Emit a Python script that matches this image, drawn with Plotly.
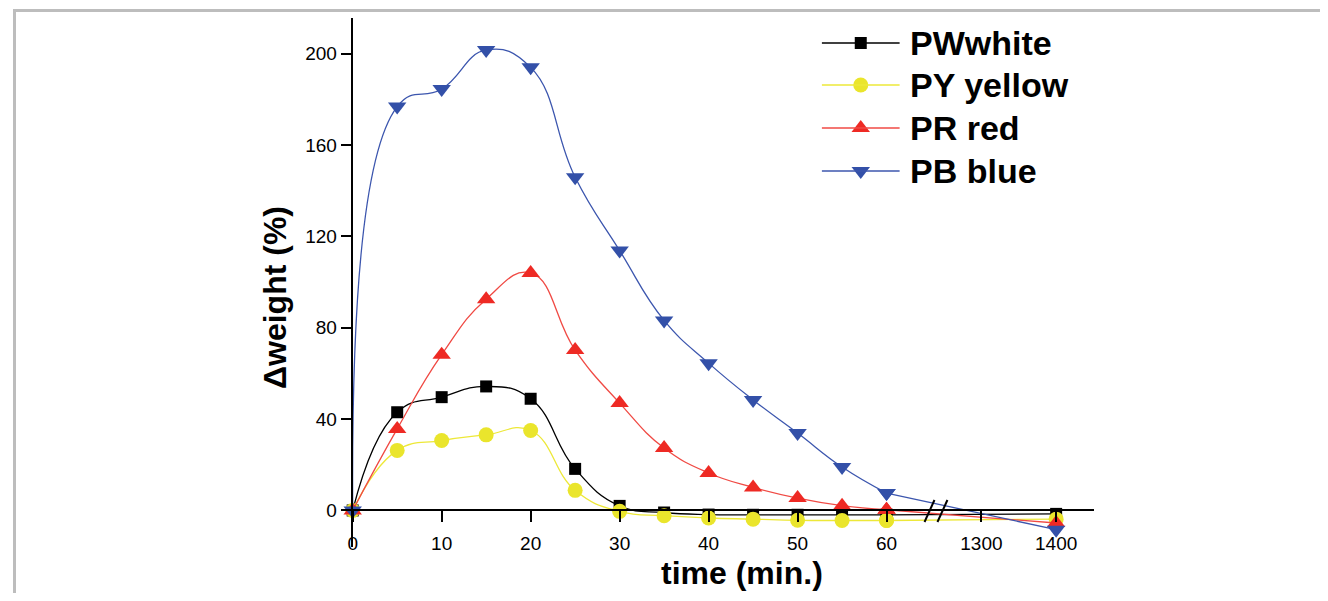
import plotly.graph_objects as go

# ---------------- data ----------------
time_min = [0, 5, 10, 15, 20, 25, 30, 35, 40, 45, 50, 55, 60, 1400]
pw_white = [0, 43.0, 49.6, 54.3, 48.9, 18.2, 2.0, -0.9, -1.8, -1.9, -1.9, -1.9, -1.9, -1.5]
py_yellow = [0, 26.3, 30.6, 33.1, 35.0, 8.8, -0.4, -2.3, -3.3, -3.8, -4.3, -4.4, -4.4, -3.8]
pr_red = [0, 35.7, 68.2, 92.5, 104.0, 70.2, 47.0, 27.3, 16.4, 10.1, 5.4, 2.1, 0.3, -5.5]
pb_blue = [0, 176.8, 184.5, 201.6, 194.0, 145.9, 113.8, 83.2, 64.5, 48.4, 33.9, 19.0, 7.6, -8.4]

series_names = ["PWwhite", "PY yellow", "PR red", "PB blue"]
x_tick_vals = [0, 10, 20, 30, 40, 50, 60, 1300, 1400]
y_tick_vals = [0, 40, 80, 120, 160, 200]

# ---------------- broken x axis mapping ----------------
LEFT_END = 65.0          # left segment covers 0..~65 min
RIGHT_ORIGIN = 1300.0    # right segment starts labelling at 1300
RIGHT_POS = 70.66        # axis position of 1300
RIGHT_SCALE = 0.084      # axis units per minute on the right segment


def xmap(t):
    return t if t <= LEFT_END else RIGHT_POS + (t - RIGHT_ORIGIN) * RIGHT_SCALE


# page body has an 8px margin -> figure occupies screen pixels 8..1320 x 8..593
OFF = 8
W, H = 1328 - 2 * OFF, 601 - 2 * OFF


def px(x):
    return (x - OFF) / W


def py(y):
    return 1 - (y - OFF) / H


X_RANGE = [0, 83.3]
Y_RANGE = [-16, 215.6]
XDOM = [px(349), px(1093)]
YDOM = [py(547), py(18)]

styles = [
    dict(color="#000000", line="#000000", symbol="square", size=12),
    dict(color="#EAE52C", line="#EDE838", symbol="circle", size=15),
    dict(color="#EE2A24", line="#F04A44", symbol="triangle-up", size=16),
    dict(color="#3350A8", line="#3C56AE", symbol="triangle-down", size=16),
]

fig = go.Figure()
all_series = [pw_white, py_yellow, pr_red, pb_blue]
for name, ys, st in zip(series_names, all_series, styles):
    # smooth part (0..60 min)
    xs_l = [xmap(t) for t in time_min if t <= LEFT_END]
    ys_l = [y for t, y in zip(time_min, ys) if t <= LEFT_END]
    fig.add_trace(go.Scatter(
        x=xs_l, y=ys_l, mode="lines+markers", name=name, showlegend=False,
        line=dict(color=st["line"], width=1.3, shape="spline", smoothing=1.3),
        marker=dict(symbol=st["symbol"], size=st["size"], color=st["color"],
                    line=dict(width=0)),
        cliponaxis=False, hoverinfo="skip"))
    # straight part across the break (60 -> 1400 min)
    xs_r = [xmap(t) for t in time_min[-2:]]
    ys_r = ys[-2:]
    fig.add_trace(go.Scatter(
        x=xs_r, y=ys_r, mode="lines+markers", showlegend=False,
        line=dict(color=st["line"], width=1.3),
        marker=dict(symbol=st["symbol"], size=st["size"], color=st["color"],
                    line=dict(width=0)),
        cliponaxis=False, hoverinfo="skip"))

# y=0 position in paper fraction, for the free x axis
y0_frac = YDOM[0] + (0 - Y_RANGE[0]) / (Y_RANGE[1] - Y_RANGE[0]) * (YDOM[1] - YDOM[0])

FONT = "Liberation Sans, Arial, Helvetica, sans-serif"

fig.update_layout(
    width=W, height=H,
    margin=dict(l=0, r=0, t=0, b=0),
    paper_bgcolor="white", plot_bgcolor="rgba(0,0,0,0)",
    font=dict(family=FONT, color="black"),
    showlegend=False,
    xaxis=dict(
        domain=XDOM, range=X_RANGE, anchor="free", position=y0_frac,
        showline=True, linecolor="black", linewidth=2,
        ticks="outside", ticklen=11, tickwidth=1.5, tickcolor="black",
        tickvals=[xmap(v) for v in x_tick_vals],
        ticktext=[str(v) for v in x_tick_vals],
        tickfont=dict(size=19, family=FONT), ticklabelstandoff=5,
        showgrid=False, zeroline=False,
    ),
    yaxis=dict(
        domain=YDOM, range=Y_RANGE, anchor="x", position=XDOM[0],
        showline=True, linecolor="black", linewidth=2,
        ticks="outside", ticklen=10, tickwidth=1.5, tickcolor="black",
        tickvals=y_tick_vals, ticktext=[str(v) for v in y_tick_vals],
        tickfont=dict(size=19, family=FONT),
        showgrid=False, zeroline=False,
    ),
    # full-figure pixel overlay for legend glyphs (screen pixel coordinates)
    xaxis2=dict(domain=[0, 1], range=[OFF, OFF + W], visible=False, anchor="y2",
                fixedrange=True),
    yaxis2=dict(domain=[0, 1], range=[OFF + H, OFF], visible=False, anchor="x2",
                fixedrange=True),
)

# ---------------- titles ----------------
fig.add_annotation(x=px(740), y=py(573), xref="paper", yref="paper",
                   text="<b>time (min.)</b>", showarrow=False,
                   font=dict(size=32, family=FONT), xanchor="center", yanchor="middle")
fig.add_annotation(x=px(271), y=py(297), xref="paper", yref="paper",
                   text="<b>\u0394weight (%)</b>", showarrow=False, textangle=-90,
                   font=dict(size=32, family=FONT), xanchor="center", yanchor="middle")

# ---------------- manual legend ----------------
legend_rows = [43, 85, 128, 171]
for name, st, yr in zip(series_names, styles, legend_rows):
    fig.add_shape(type="line", xref="paper", yref="paper",
                  x0=px(820), x1=px(898), y0=py(yr), y1=py(yr),
                  line=dict(color=st["line"], width=1.3))
    fig.add_trace(go.Scatter(
        x=[859], y=[yr], xaxis="x2", yaxis="y2", mode="markers", showlegend=False,
        marker=dict(symbol=st["symbol"], size=st["size"], color=st["color"],
                    line=dict(width=0)),
        hoverinfo="skip"))
    fig.add_annotation(x=px(906), y=py(yr), xref="paper", yref="paper",
                       text="<b>" + name + "</b>", showarrow=False,
                       font=dict(size=34, family=FONT), xanchor="left", yanchor="middle")

# ---------------- axis break marks ----------------
for x0 in (923, 936):
    fig.add_shape(type="line", xref="paper", yref="paper",
                  x0=px(x0), y0=py(522), x1=px(x0 + 10), y1=py(500),
                  line=dict(color="black", width=2))

# ---------------- outer frame (top & left edges) ----------------
fig.add_shape(type="line", xref="paper", yref="paper",
              x0=px(8), x1=px(OFF + W), y0=py(10.5), y1=py(10.5),
              line=dict(color="#BDBDBD", width=3))
fig.add_shape(type="line", xref="paper", yref="paper",
              x0=px(9.5), x1=px(9.5), y0=py(10), y1=py(OFF + H),
              line=dict(color="#BDBDBD", width=3))

fig.write_html("out.html")
